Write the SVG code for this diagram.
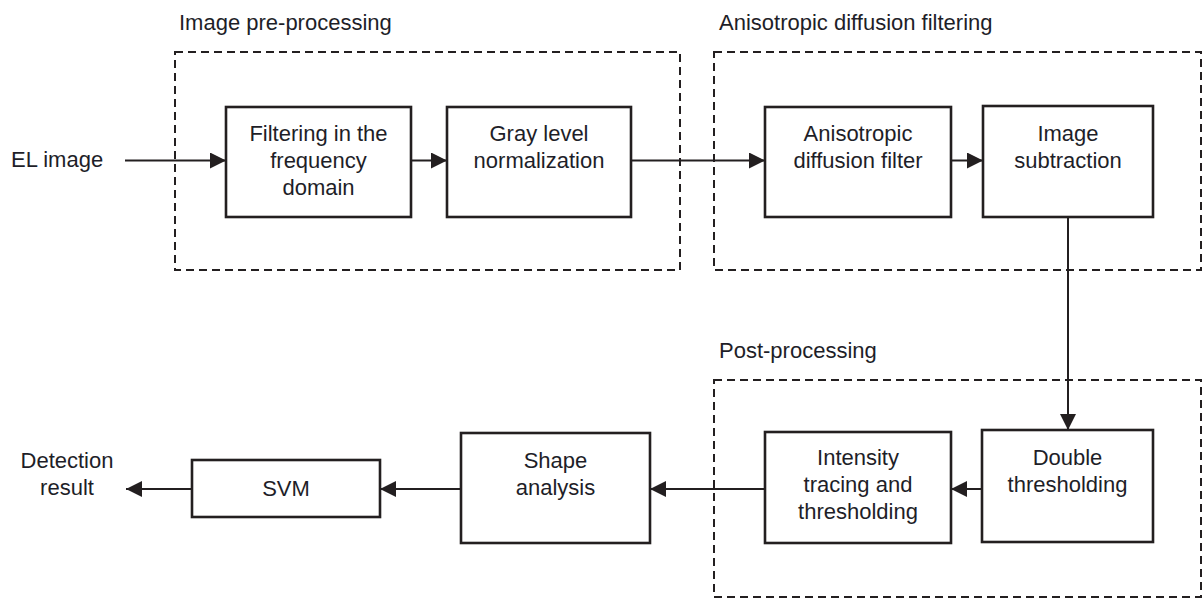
<svg xmlns="http://www.w3.org/2000/svg" width="1203" height="598" viewBox="0 0 1203 598">
  <style>
    text { font-family: "Liberation Sans", Arial, sans-serif; font-size: 22px; fill: #1e1e28; }
    .c { text-anchor: middle; }
    .box { fill: #ffffff; stroke: #231f20; stroke-width: 2.6; }
    .group { fill: none; stroke: #231f20; stroke-width: 2; stroke-dasharray: 8 5; }
    .link { fill: none; stroke: #231f20; stroke-width: 2; marker-end: url(#head); }
  </style>
  <defs>
    <marker id="head" viewBox="0 0 16 16" refX="16" refY="8" markerWidth="16" markerHeight="16" markerUnits="userSpaceOnUse" orient="auto">
      <path d="M0,0 L16,8 L0,16 Z" fill="#231f20"/>
    </marker>
  </defs>
  <rect width="1203" height="598" fill="#ffffff"/>

  <!-- stage groupings -->
  <g id="stage-preprocessing">
    <rect class="group" x="175" y="52" width="505" height="218"/>
    <text x="179" y="30">Image pre-processing</text>
  </g>
  <g id="stage-anisotropic">
    <rect class="group" x="714" y="52" width="487" height="218"/>
    <text x="719" y="30">Anisotropic diffusion filtering</text>
  </g>
  <g id="stage-postprocessing">
    <rect class="group" x="714" y="380" width="487" height="217"/>
    <text x="719" y="358">Post-processing</text>
  </g>

  <!-- connectors -->
  <g id="connectors">
    <line class="link" x1="125" y1="160.5" x2="226" y2="160.5"/>
    <line class="link" x1="411" y1="160.5" x2="447" y2="160.5"/>
    <line class="link" x1="631" y1="160.5" x2="765" y2="160.5"/>
    <line class="link" x1="951" y1="160.5" x2="983" y2="160.5"/>
    <line class="link" x1="1068" y1="217" x2="1068" y2="430"/>
    <line class="link" x1="982" y1="489" x2="951" y2="489"/>
    <line class="link" x1="765" y1="489" x2="650" y2="489"/>
    <line class="link" x1="461" y1="489" x2="380" y2="489"/>
    <line class="link" x1="192" y1="489" x2="126" y2="489"/>
  </g>

  <!-- endpoints -->
  <g id="input">
    <text x="11" y="167">EL image</text>
  </g>
  <g id="output">
    <text class="c" x="67" y="468">Detection</text>
    <text class="c" x="67" y="495">result</text>
  </g>

  <!-- processing blocks -->
  <g id="frequency-filter">
    <rect class="box" x="226" y="107" width="185" height="110"/>
    <text class="c" x="318.5" y="141">Filtering in the</text>
    <text class="c" x="318.5" y="168">frequency</text>
    <text class="c" x="318.5" y="195">domain</text>
  </g>
  <g id="gray-normalization">
    <rect class="box" x="447" y="107" width="184" height="110"/>
    <text class="c" x="539" y="141">Gray level</text>
    <text class="c" x="539" y="168">normalization</text>
  </g>
  <g id="diffusion-filter">
    <rect class="box" x="765" y="107" width="186" height="110"/>
    <text class="c" x="858" y="141">Anisotropic</text>
    <text class="c" x="858" y="168">diffusion filter</text>
  </g>
  <g id="image-subtraction">
    <rect class="box" x="983" y="106" width="170" height="111"/>
    <text class="c" x="1068" y="141">Image</text>
    <text class="c" x="1068" y="168">subtraction</text>
  </g>
  <g id="double-thresholding">
    <rect class="box" x="982" y="430" width="171" height="112"/>
    <text class="c" x="1067.5" y="465">Double</text>
    <text class="c" x="1067.5" y="492">thresholding</text>
  </g>
  <g id="intensity-tracing">
    <rect class="box" x="765" y="432" width="186" height="111"/>
    <text class="c" x="858" y="465">Intensity</text>
    <text class="c" x="858" y="492">tracing and</text>
    <text class="c" x="858" y="519">thresholding</text>
  </g>
  <g id="shape-analysis">
    <rect class="box" x="461" y="433" width="189" height="110"/>
    <text class="c" x="555.5" y="468">Shape</text>
    <text class="c" x="555.5" y="495">analysis</text>
  </g>
  <g id="svm">
    <rect class="box" x="192" y="460" width="188" height="57"/>
    <text class="c" x="286" y="496">SVM</text>
  </g>
</svg>
